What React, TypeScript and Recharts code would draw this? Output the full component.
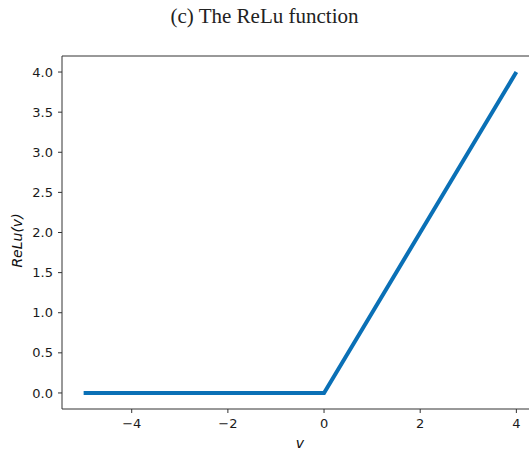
import React from 'react';
import { LineChart, Line, XAxis, YAxis, ReferenceLine } from 'recharts';

// sample points of the ReLU curve
const vValues = [-5, -4, -3, -2, -1, 0, 1, 2, 3, 4];
const reluValues = [0, 0, 0, 0, 0, 0, 1, 2, 3, 4];

const xTicks = [-4, -2, 0, 2, 4];
const yTicks = [0, 0.5, 1, 1.5, 2, 2.5, 3, 3.5, 4];

const xDomain = [-5.45, 4.45];
const yDomain = [-0.2, 4.2];

const data = vValues.map((v, i) => ({ v, relu: reluValues[i] }));

const tickFont = { fontFamily: 'DejaVu Sans', fontSize: 13, fill: '#1a1a1a' };
const axisColor = '#333';

const formatX = (v: number) => (v < 0 ? `\u2212${Math.abs(v)}` : `${v}`);

const YLabel = (props: any) => {
  const { viewBox } = props;
  const cx = viewBox.x + 18;
  const cy = viewBox.y + viewBox.height / 2 + 8;
  return (
    <text
      x={cx}
      y={cy}
      transform={`rotate(-90, ${cx}, ${cy})`}
      textAnchor="middle"
      dominantBaseline="middle"
      fontFamily="DejaVu Sans"
      fontStyle="italic"
      fontSize={14}
      fill="#111"
    >
      ReLu(v)
    </text>
  );
};

const App: React.FC = () => {
  return (
    <div
      style={{
        position: 'absolute',
        left: 0,
        top: 0,
        width: 529,
        height: 450,
        overflow: 'hidden',
        background: '#fff',
      }}
    >
      <div
        style={{
          position: 'absolute',
          top: 4,
          left: 0,
          width: 529,
          textAlign: 'center',
          fontFamily: 'Liberation Serif',
          fontSize: 21,
          color: '#222',
        }}
      >
        (c) The ReLu function
      </div>
      <div style={{ position: 'absolute', left: 0, top: 0 }}>
        <LineChart
          width={545}
          height={450}
          data={data}
          margin={{ top: 56, right: 7, bottom: 0, left: 0 }}
        >
          <XAxis
            dataKey="v"
            type="number"
            domain={xDomain}
            ticks={xTicks}
            tickFormatter={formatX}
            tick={tickFont}
            tickSize={4}
            tickMargin={6}
            height={41}
            stroke={axisColor}
            label={{
              value: 'v',
              position: 'insideBottom',
              offset: 2,
              style: { fontFamily: 'DejaVu Sans', fontStyle: 'italic', fontSize: 14, fill: '#111' },
            }}
          />
          <YAxis
            type="number"
            domain={yDomain}
            ticks={yTicks}
            tickFormatter={(t: number) => t.toFixed(1)}
            tick={tickFont}
            tickSize={4}
            tickMargin={5}
            width={62}
            stroke={axisColor}
            allowDataOverflow
            label={<YLabel />}
          />
          {/* frame along the top edge */}
          <ReferenceLine y={yDomain[1]} stroke={axisColor} ifOverflow="visible" />
          <Line
            type="linear"
            dataKey="relu"
            stroke="#0a70b6"
            strokeWidth={4}
            dot={false}
            activeDot={false}
            isAnimationActive={false}
          />
        </LineChart>
      </div>
    </div>
  );
};

export default App;
